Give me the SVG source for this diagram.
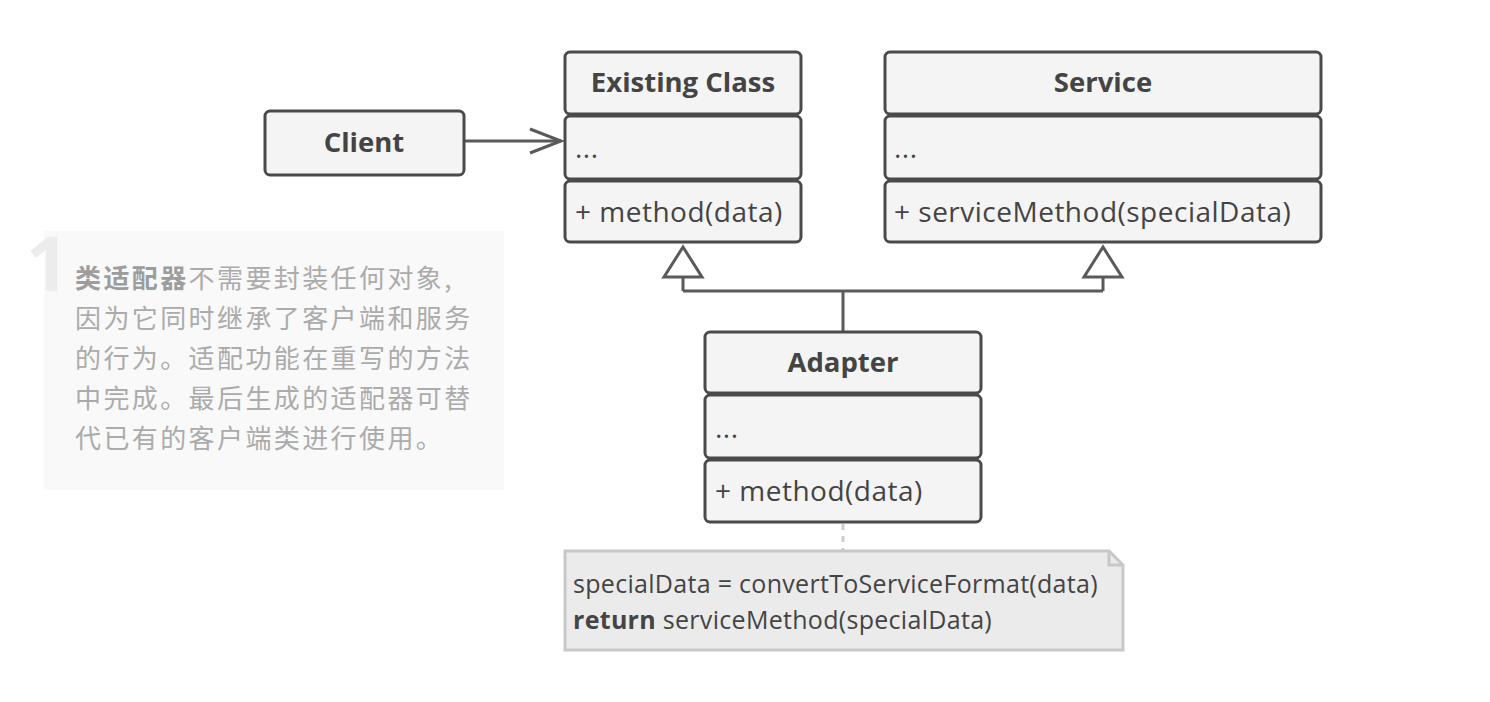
<svg xmlns="http://www.w3.org/2000/svg" width="1490" height="702" viewBox="0 0 1490 702">
<style>
.box{fill:#f4f4f4;stroke:#4a4a4a;stroke-width:3}
.title{font-family:"Open Sans","Liberation Sans",sans-serif;font-weight:bold;font-size:27.5px;fill:#444;text-anchor:middle}
.body{font-family:"Open Sans","Liberation Sans",sans-serif;font-size:28px;fill:#444;letter-spacing:0.5px}
.conn{fill:none;stroke:#5a5a5a;stroke-width:3}
.note{font-family:"Open Sans","Liberation Sans",sans-serif;font-size:25px;fill:#444;letter-spacing:0.3px}
.cjk{font-family:"Noto Sans CJK SC",sans-serif;font-size:26px;fill:#ababab;letter-spacing:2.4px}
</style>
<defs>
<marker id="open" markerWidth="40" markerHeight="30" refX="33" refY="14" orient="auto" markerUnits="userSpaceOnUse">
<path d="M2,2 L33,14 L2,26" fill="none" stroke="#5a5a5a" stroke-width="3"/>
</marker>
</defs>
<rect x="44" y="231" width="460" height="259" fill="#f9f9f9"/>
<text x="26" y="291" font-family="Open Sans,sans-serif" font-weight="bold" font-size="76" fill="#ececec">1</text>
<g id="description">
<text class="cjk" x="75" y="288"><tspan font-weight="bold" fill="#9d9d9d">类适配器</tspan>不需要封装任何对象,</text>
<text class="cjk" x="75" y="328">因为它同时继承了客户端和服务</text>
<text class="cjk" x="75" y="368">的行为。适配功能在重写的方法</text>
<text class="cjk" x="75" y="408">中完成。最后生成的适配器可替</text>
<text class="cjk" x="75" y="448">代已有的客户端类进行使用。</text>
</g>
<g id="connectors">
<path class="conn" d="M465,141 L561,141" marker-end="url(#open)"/>
<path class="conn" d="M843,331 L843,291 M683,291 L1103,291 M683,291 L683,277 M1103,291 L1103,277"/>
<path d="M683,247 L702,277 L664,277 Z" fill="#fff" stroke="#5a5a5a" stroke-width="3"/>
<path d="M1103,247 L1122,277 L1084,277 Z" fill="#fff" stroke="#5a5a5a" stroke-width="3"/>
<path d="M843,524 L843,550" stroke="#cccccc" stroke-width="3" stroke-dasharray="6,6" fill="none"/>
</g>
<g id="client">
<rect class="box" x="265" y="111" width="199" height="64" rx="5"/>
<text class="title" x="364" y="152">Client</text>
</g>
<g id="existing-class">
<rect class="box" x="565" y="52" width="236" height="62" rx="5"/>
<rect class="box" x="565" y="116" width="236" height="63" rx="5"/>
<rect class="box" x="565" y="181" width="236" height="61" rx="5"/>
<text class="title" x="683" y="92">Existing Class</text>
<text class="body" x="575" y="158">...</text>
<text class="body" x="575" y="222">+ method(data)</text>
</g>
<g id="service">
<rect class="box" x="885" y="52" width="436" height="62" rx="5"/>
<rect class="box" x="885" y="116" width="436" height="63" rx="5"/>
<rect class="box" x="885" y="181" width="436" height="61" rx="5"/>
<text class="title" x="1103" y="92">Service</text>
<text class="body" x="894" y="158">...</text>
<text class="body" x="894" y="222">+ serviceMethod(specialData)</text>
</g>
<g id="adapter">
<rect class="box" x="705" y="332" width="276" height="61" rx="5"/>
<rect class="box" x="705" y="395" width="276" height="63" rx="5"/>
<rect class="box" x="705" y="460" width="276" height="62" rx="5"/>
<text class="title" x="843" y="372">Adapter</text>
<text class="body" x="715" y="438">...</text>
<text class="body" x="715" y="501">+ method(data)</text>
</g>
<g id="note">
<path d="M565,551 L1109,551 L1123,565 L1123,650 L565,650 Z" fill="#ebebeb" stroke="#c8c8c8" stroke-width="3"/>
<path d="M1109,551 L1109,565 L1123,565" fill="none" stroke="#c8c8c8" stroke-width="3"/>
<text class="note" x="573" y="593">specialData = convertToServiceFormat(data)</text>
<text class="note" x="573" y="629"><tspan font-weight="bold">return</tspan> serviceMethod(specialData)</text>
</g>
</svg>
